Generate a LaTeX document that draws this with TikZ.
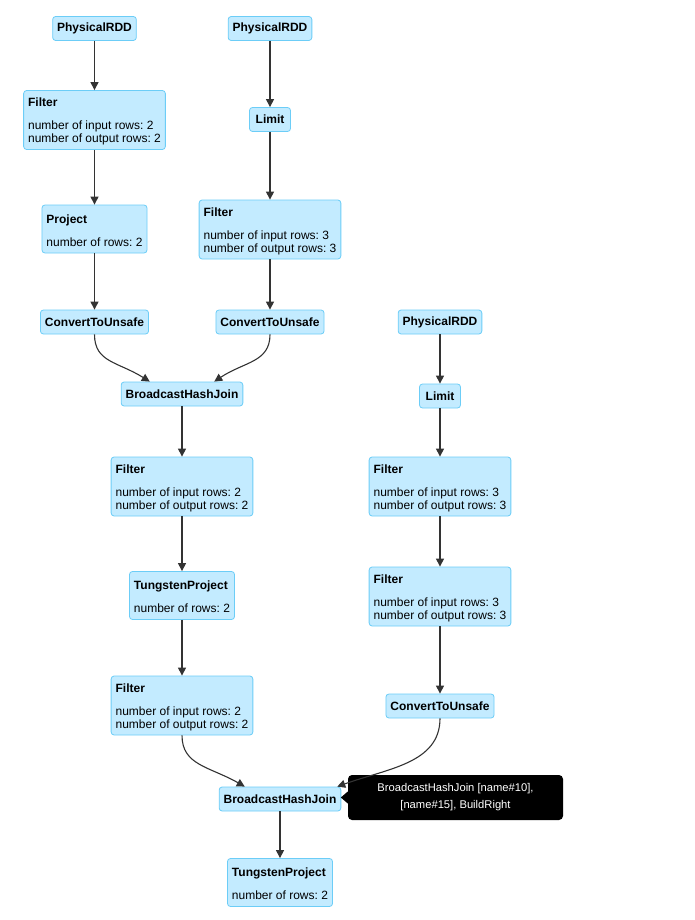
\documentclass[tikz,border=0pt]{standalone}
\usepackage{fontspec}
\setmainfont{Liberation Sans}
\usetikzlibrary{arrows.meta}
\frenchspacing
\definecolor{opfill}{HTML}{C3EBFF}
\definecolor{opline}{HTML}{6CCDF7}
\definecolor{edge}{HTML}{333333}
\tikzset{
  op/.style={draw=opline, fill=opfill, line width=0.8pt, rounded corners=3pt,
    font=\bfseries\fontsize{12}{13}\selectfont, inner xsep=4.5pt, minimum height=24pt},
  metric/.style={op, align=left, font=\fontsize{12}{13}\selectfont, minimum height=59pt},
  short/.style={minimum height=48pt},
  flow/.style={draw=edge, line width=1.1pt, -{Triangle[length=8pt,width=8pt]}},
  tooltip/.style={fill=black, text=white, rounded corners=4pt, align=center,
    font=\fontsize{11.2}{17}\selectfont, minimum width=215pt, minimum height=45pt}
}
\newcommand{\opmetric}[2]{\rule{0pt}{12pt}\textbf{#1}\\[10pt]#2}
\begin{document}
\begin{tikzpicture}[x=1pt,y=-1pt]
\useasboundingbox (0,0) rectangle (694,920);
% left branch
\node[op] (rddA) at (94.5,28.5) {PhysicalRDD};
\node[metric] (filterA) at (94.5,120) {\opmetric{Filter}{number of input rows: 2\\number of output rows: 2}};
\node[metric,short] (projA) at (94.5,229) {\opmetric{Project}{number of rows: 2}};
\node[op] (cuA) at (94.5,322) {ConvertToUnsafe};
% middle branch
\node[op] (rddB) at (270,28.5) {PhysicalRDD};
\node[op, minimum width=41pt] (limitB) at (270,119.5) {Limit};
\node[metric] (filterB) at (270,229.5) {\opmetric{Filter}{number of input rows: 3\\number of output rows: 3}};
\node[op] (cuB) at (270,322) {ConvertToUnsafe};
% first join
\node[op] (bhjA) at (182,394) {BroadcastHashJoin};
\node[metric] (filterL1) at (182,486.5) {\opmetric{Filter}{number of input rows: 2\\number of output rows: 2}};
\node[metric,short] (tpA) at (182,595.5) {\opmetric{TungstenProject}{number of rows: 2}};
\node[metric] (filterL2) at (182,705.5) {\opmetric{Filter}{number of input rows: 2\\number of output rows: 2}};
% right branch
\node[op] (rddC) at (440,322) {PhysicalRDD};
\node[op, minimum width=41pt] (limitC) at (440,396) {Limit};
\node[metric] (filterC1) at (440,486.5) {\opmetric{Filter}{number of input rows: 3\\number of output rows: 3}};
\node[metric] (filterC2) at (440,596.5) {\opmetric{Filter}{number of input rows: 3\\number of output rows: 3}};
\node[op] (cuC) at (440,706) {ConvertToUnsafe};
% second join
\node[op] (bhjB) at (280,799) {BroadcastHashJoin};
\node[metric,short] (tpB) at (280,882.5) {\opmetric{TungstenProject}{number of rows: 2}};
\node[tooltip] (tip) at (455.5,797.5) {BroadcastHashJoin [name\#10],\\{}[name\#15], BuildRight};
\fill (tip.west) ++(0,-6) -- ++(-7,6) -- ++(7,6) -- cycle;
\foreach \a/\b in {rddA/filterA, filterA/projA, projA/cuA, rddB/limitB, limitB/filterB,
  filterB/cuB, bhjA/filterL1, filterL1/tpA, tpA/filterL2, rddC/limitC, limitC/filterC1,
  filterC1/filterC2, filterC2/cuC, bhjB/tpB}
  \draw[flow] (\a.south) -- (\b.north);
\draw[flow] (cuA.south) .. controls +(0,28) and +(-32,-20) .. ([xshift=29pt]bhjA.north west);
\draw[flow] (cuB.south) .. controls +(0,28) and +(30,-20) .. ([xshift=-29pt]bhjA.north east);
\draw[flow] (filterL2.south) .. controls +(0,30) and +(-35,-20) .. ([xshift=26pt]bhjB.north west);
\draw[flow] (cuC.south) .. controls +(0,45) and +(50,-18) .. ([xshift=-4pt]bhjB.north east);
\end{tikzpicture}
\end{document}
